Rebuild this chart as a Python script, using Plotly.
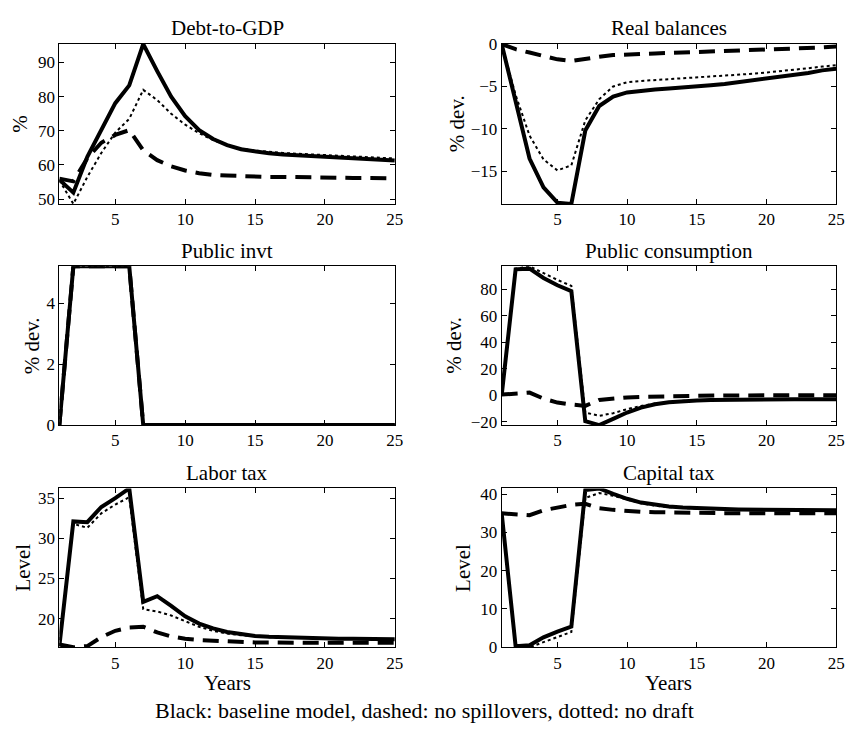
import plotly.graph_objects as go

years = list(range(1, 26))

# ---------------- data ----------------
debt_base = [55.7, 51.9, 62.4, 70.5, 78.1, 83.3, 95.4, 87.5, 80.0, 74.3, 70.2, 67.6, 65.8, 64.6, 63.9,
             63.4, 63.1, 62.9, 62.7, 62.5, 62.2, 62.0, 61.8, 61.6, 61.3]
debt_nospill = [56.0, 55.2, 62.0, 66.5, 68.8, 70.2, 64.3, 61.4, 59.6, 58.4, 57.6, 57.1, 56.9, 56.7, 56.6,
                56.5, 56.5, 56.4, 56.4, 56.3, 56.3, 56.2, 56.2, 56.1, 56.1]
debt_nodraft = [55.5, 48.6, 56.5, 63.5, 69.5, 73.5, 82.0, 79.0, 75.0, 71.8, 69.3, 67.3, 65.8, 64.8, 64.2,
                63.8, 63.5, 63.3, 63.1, 62.9, 62.7, 62.5, 62.3, 62.1, 61.9]

rb_base = [0, -7.0, -13.5, -16.9, -18.7, -18.85, -10.2, -7.3, -6.2, -5.7, -5.5, -5.35, -5.25, -5.15, -5.0,
           -4.85, -4.7, -4.5, -4.3, -4.1, -3.9, -3.6, -3.4, -3.1, -2.9]
rb_nospill = [0, -0.6, -1.0, -1.4, -1.8, -2.0, -1.7, -1.5, -1.3, -1.2, -1.15, -1.1, -1.05, -1.0, -0.95,
              -0.9, -0.85, -0.8, -0.7, -0.65, -0.6, -0.5, -0.45, -0.4, -0.3]
rb_nodraft = [0, -6.0, -10.8, -13.6, -14.9, -14.3, -9.0, -6.5, -5.0, -4.5, -4.35, -4.25, -4.15, -4.05, -3.95,
              -3.85, -3.7, -3.6, -3.5, -3.35, -3.2, -3.0, -2.85, -2.65, -2.5]

pi_base = [0, 5.22, 5.22, 5.22, 5.22, 5.22] + [0] * 19
pi_nospill = [0, 5.22, 5.22, 5.22, 5.22, 5.22] + [0] * 19
pi_nodraft = [0, 5.22, 5.22, 5.22, 5.22, 5.22] + [0] * 19

pc_base = [0, 95.0, 95.5, 88.5, 83.0, 78.5, -19.5, -22.5, -17.8, -13.0, -9.3, -6.8, -5.3, -4.4, -3.9,
           -3.6, -3.4, -3.3, -3.2, -3.1, -3.1, -3.0, -3.0, -3.0, -3.0]
pc_nospill = [0.5, 1.0, 2.0, -2.5, -5.5, -7.0, -8.0, -3.5, -2.2, -1.6, -1.2, -0.9, -0.6, -0.4, -0.3,
              -0.2, -0.1, -0.1, 0.0, 0.0, 0.0, 0.0, 0.0, 0.0, 0.0]
pc_nodraft = [0, 95.5, 97.3, 92.0, 87.0, 82.5, -13.0, -15.5, -13.5, -10.5, -8.0, -6.2, -5.0, -4.2, -3.7,
              -3.4, -3.2, -3.1, -3.0, -3.0, -2.9, -2.9, -2.9, -2.9, -2.9]

lt_base = [16.6, 32.1, 32.0, 33.9, 35.0, 36.2, 22.1, 22.8, 21.6, 20.3, 19.4, 18.8, 18.35, 18.05, 17.85,
           17.75, 17.68, 17.62, 17.58, 17.55, 17.52, 17.5, 17.48, 17.46, 17.45]
lt_nospill = [16.8, 16.45, 16.6, 17.7, 18.5, 18.9, 19.0, 18.3, 17.8, 17.5, 17.35, 17.25, 17.15, 17.1, 17.05,
              17.05, 17.0, 17.0, 17.0, 17.0, 17.0, 17.0, 17.0, 17.0, 17.0]
lt_nodraft = [16.6, 31.8, 31.3, 33.1, 34.2, 35.1, 21.2, 20.9, 20.4, 19.7, 19.0, 18.5, 18.15, 17.95, 17.8,
              17.7, 17.65, 17.6, 17.56, 17.53, 17.5, 17.48, 17.46, 17.45, 17.44]

ct_base = [35.0, 0.3, 0.5, 2.6, 4.1, 5.4, 41.1, 41.5, 40.1, 38.8, 37.8, 37.2, 36.8, 36.5, 36.3,
           36.2, 36.1, 36.0, 36.0, 35.9, 35.9, 35.9, 35.8, 35.8, 35.8]
ct_nospill = [35.0, 34.8, 34.5, 35.8, 36.5, 37.2, 37.5, 36.3, 35.9, 35.6, 35.4, 35.3, 35.2, 35.15, 35.1,
              35.1, 35.05, 35.05, 35.0, 35.0, 35.0, 35.0, 35.0, 35.0, 35.0]
ct_nodraft = [35.0, 0.0, 0.0, 1.3, 2.6, 4.0, 39.0, 40.3, 39.6, 38.5, 37.6, 37.0, 36.6, 36.4, 36.2,
              36.1, 36.0, 36.0, 35.9, 35.9, 35.9, 35.8, 35.8, 35.8, 35.8]

titles = ["Debt-to-GDP", "Real balances", "Public invt", "Public consumption", "Labor tax", "Capital tax"]
ylabels = ["%", "% dev.", "% dev.", "% dev.", "Level", "Level"]
x_ticks = [5, 10, 15, 20, 25]
y_ticks = [
    [50, 60, 70, 80, 90],
    [-15, -10, -5, 0],
    [0, 2, 4],
    [-20, 0, 20, 40, 60, 80],
    [20, 25, 30, 35],
    [0, 10, 20, 30, 40],
]
series = [
    (debt_base, debt_nospill, debt_nodraft),
    (rb_base, rb_nospill, rb_nodraft),
    (pi_base, pi_nospill, pi_nodraft),
    (pc_base, pc_nospill, pc_nodraft),
    (lt_base, lt_nospill, lt_nodraft),
    (ct_base, ct_nospill, ct_nodraft),
]
caption = "Black: baseline model, dashed: no spillovers, dotted: no draft"

# ---------------- layout geometry (pixels) ----------------
W, H = 857, 744
FONT = "Liberation Serif"
col_x = [(60, 399), (507, 845)]
row_y = [(36, 200), (264, 427), (492, 655)]
ylabel_x = [20, 462, 32, 458, 23, 468]


def px(x):
    return x / W


def py(y):
    return 1 - y / H


fig = go.Figure()
annotations = []
layout = {}
for i in range(6):
    r, c = divmod(i, 2)
    x0, x1 = col_x[c]
    y0, y1 = row_y[r]
    xa = "xaxis" if i == 0 else f"xaxis{i + 1}"
    ya = "yaxis" if i == 0 else f"yaxis{i + 1}"
    xr = "x" if i == 0 else f"x{i + 1}"
    yr = "y" if i == 0 else f"y{i + 1}"
    base, nospill, nodraft = series[i]
    allv = list(base) + list(nospill) + list(nodraft)
    lo, hi = min(allv), max(allv)
    common = dict(showline=True, linecolor="black", linewidth=1, mirror="ticks",
                  ticks="inside", ticklen=5, tickcolor="black", tickwidth=1,
                  showgrid=False, zeroline=False,
                  tickfont=dict(family=FONT, size=17, color="black"))
    layout[xa] = dict(domain=[px(x0), px(x1)], anchor=yr, range=[1, 25],
                      tickvals=x_ticks, **common)
    layout[ya] = dict(domain=[py(y1), py(y0)], anchor=xr, range=[lo, hi],
                      tickvals=y_ticks[i], **common)
    for vals, dash, width in ((base, "solid", 4), (nospill, "16px,9px", 4), (nodraft, "dot", 2)):
        fig.add_trace(go.Scatter(x=years, y=vals, xaxis=xr, yaxis=yr, mode="lines",
                                 line=dict(color="black", width=width, dash=dash),
                                 showlegend=False, hoverinfo="skip"))
    annotations.append(dict(text=titles[i], x=px((x0 + x1) / 2), y=py(y0 - 16),
                            xref="paper", yref="paper", xanchor="center", yanchor="middle",
                            showarrow=False, font=dict(family=FONT, size=21, color="black")))
    annotations.append(dict(text=ylabels[i], x=px(ylabel_x[i]), y=py((y0 + y1) / 2),
                            xref="paper", yref="paper", xanchor="center", yanchor="middle",
                            textangle=-90, showarrow=False,
                            font=dict(family=FONT, size=21, color="black")))
    if r == 2:
        annotations.append(dict(text="Years", x=px((x0 + x1) / 2), y=py(692),
                                xref="paper", yref="paper", xanchor="center", yanchor="middle",
                                showarrow=False, font=dict(family=FONT, size=21, color="black")))

annotations.append(dict(text=caption, x=0.5, y=py(720), xref="paper", yref="paper",
                        xanchor="center", yanchor="middle", showarrow=False,
                        font=dict(family=FONT, size=22, color="black")))

fig.update_layout(width=W, height=H, autosize=False,
                  margin=dict(l=0, r=0, t=0, b=0),
                  paper_bgcolor="white", plot_bgcolor="white",
                  annotations=annotations, **layout)
fig.write_html("out.html")
